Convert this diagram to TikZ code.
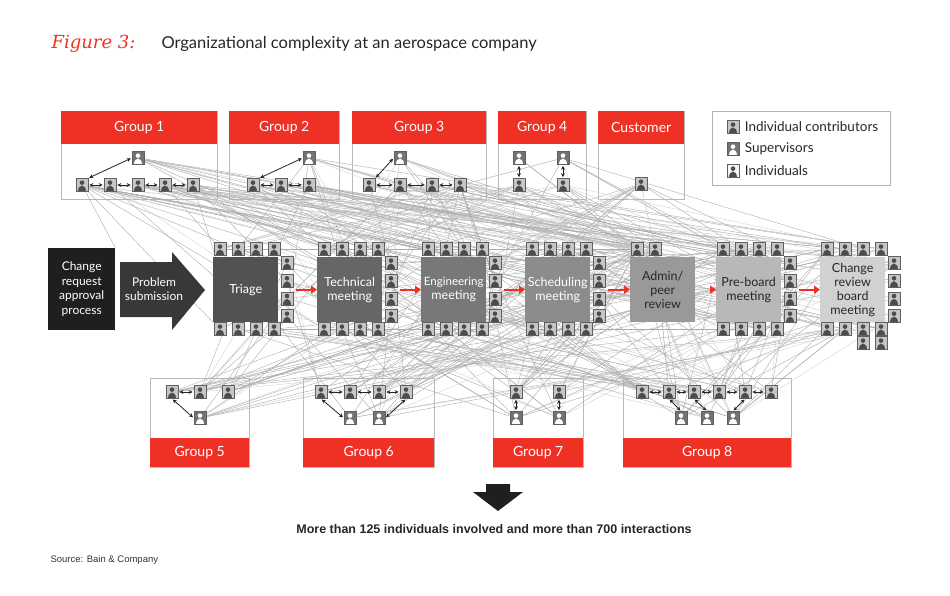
\documentclass[tikz,border=0pt]{standalone}
\usepackage{fontspec}
\usetikzlibrary{arrows.meta}
\setmainfont{Lato}
\newfontfamily\hv{Liberation Sans}
\newfontfamily\scr{DejaVu Serif}
\pgfdeclarelayer{bg}\pgfdeclarelayer{lines}
\pgfsetlayers{bg,lines,main}
\definecolor{bred}{HTML}{EE3124}
\tikzset{
 person/.style={path picture={
   \fill[#1] ([yshift=2.4pt]path picture bounding box.center) circle (2.3pt);
   \fill[#1] ([yshift=-6.5pt]path picture bounding box.center) ++(-4pt,0) arc[start angle=180,end angle=0,x radius=4pt,y radius=6pt] -- cycle;}},
 ico/.style={draw=gray!75!black,line width=0.6pt,minimum width=12pt,minimum height=13pt,inner sep=0pt},
 icoc/.style={ico,fill=gray!45,person=black!70},
 icoi/.style={ico,fill=gray!8,person=black!70},
 icos/.style={ico,fill=black!55,person=white},
 ghead/.style={fill=bred,text=white,font=\fontsize{14}{16}\selectfont,inner sep=0pt,anchor=north west},
 gbox/.style={draw=gray!55,line width=0.8pt,fill=white},
 meet/.style={minimum width=65pt,minimum height=65pt,inner sep=0pt,align=center,font=\fontsize{12.5}{14}\selectfont,text width=65pt},
 dar/.style={<->,>={Stealth[length=4pt,width=4pt]},line width=0.8pt,black!85,shorten >=1pt,shorten <=1pt},
 rarr/.style={-{Triangle[length=6pt,width=8pt]},line width=2pt,bred},
 lnk/.style={line width=0.4pt,gray!65},
 lnk2/.style={line width=0.4pt,gray!35},
}
\newcommand\ic[4]{\node[ico#4] (#1) at ({#2},{#3}) {};}
\begin{document}
\begin{tikzpicture}[x=1pt,y=-1pt]
\useasboundingbox (0,0) rectangle (950,596);
\node[anchor=west,text=bred,font=\scr\itshape\fontsize{18}{20}\selectfont] (fig) at (48,44) {Figure 3:};
\node[anchor=west,font=\fontsize{16.5}{18}\selectfont,text=black!85] (title) at (158,44) {Organizational complexity at an aerospace company};
\begin{pgfonlayer}{bg}
\foreach \a/\b/\t/\n in {61/217/Group 1/h1,229/339/Group 2/h2,352/486/Group 3/h3,498/586/Group 4/h4,598/684/Customer/h5}{
 \node[gbox,minimum width=\b-\a,minimum height=88,anchor=north west,inner sep=0] (\n b) at (\a,111) {};
 \node[ghead,minimum width=\b-\a,minimum height=33] (\n) at (\a,111) {\t};
}
\foreach \a/\b/\t/\n in {150/249/Group 5/l5,303/434/Group 6/l6,493/583/Group 7/l7,623/791/Group 8/l8}{
 \node[gbox,minimum width=\b-\a,minimum height=89,anchor=north west,inner sep=0] (\n b) at (\a,378) {};
 \node[ghead,minimum width=\b-\a,minimum height=29] (\n) at (\a,438) {\t};
}
\end{pgfonlayer}
\node[draw=gray!60,line width=0.8pt,minimum width=178,minimum height=74,anchor=north west] (leg) at (712,111) {};
\ic{LA}{733}{127}{c}\ic{LB}{733}{149}{s}\ic{LC}{733}{171}{i}
\foreach \n/\t in {LA/Individual contributors,LB/Supervisors,LC/Individuals}
 \node[anchor=west,font=\fontsize{13.5}{15}\selectfont,text=black!85,xshift=2pt] at (\n.east) {\t};
\ic{T1}{82}{185}{c}\ic{T2}{110}{185}{c}\ic{T3}{138}{185}{c}\ic{T4}{165}{185}{c}\ic{T5}{193}{185}{c}\ic{T6}{138}{158}{s}
\ic{T7}{253}{185}{c}\ic{T8}{281}{185}{c}\ic{T9}{309}{185}{c}\ic{T10}{309}{158}{s}
\ic{T11}{369}{185}{c}\ic{T12}{400}{185}{c}\ic{T13}{432}{185}{c}\ic{T14}{460}{185}{c}\ic{T15}{400}{158}{s}
\ic{T16}{519}{185}{c}\ic{T17}{563}{185}{c}\ic{T18}{519}{158}{s}\ic{T19}{563}{158}{s}
\ic{T20}{641}{184}{c}
\foreach \p/\q in {T1/T2,T2/T3,T3/T4,T4/T5,T7/T8,T8/T9,T12/T13,T13/T14,T11/T12} \draw[dar] (\p) -- (\q);
\draw[dar] (T1.north east) -- (T6.west);
\draw[dar] (T7.north east) -- (T10.west);
\draw[dar] (T11.north east) -- (T15.west);
\draw[dar] (T16) -- (T18); \draw[dar] (T17) -- (T19);
\ic{B1}{172}{392}{c}\ic{B2}{200}{392}{c}\ic{B3}{228}{392}{c}\ic{B4}{200}{418}{s}
\ic{B5}{321}{392}{c}\ic{B6}{350}{392}{c}\ic{B7}{379}{392}{c}\ic{B8}{406}{392}{c}\ic{B9}{350}{418}{s}\ic{B10}{379}{418}{s}
\ic{B11}{516}{392}{c}\ic{B12}{559}{392}{c}\ic{B13}{516}{418}{s}\ic{B14}{559}{418}{s}
\ic{B15}{642}{392}{c}\ic{B16}{669}{392}{c}\ic{B17}{694}{392}{c}\ic{B18}{719}{392}{c}\ic{B19}{745}{392}{c}\ic{B20}{771}{392}{c}
\ic{B21}{681}{418}{s}\ic{B22}{707}{418}{s}\ic{B23}{733}{418}{s}
\foreach \p/\q in {B1/B2,B5/B6,B6/B7,B7/B8,B15/B16,B16/B17,B17/B18,B18/B19,B19/B20} \draw[dar] (\p) -- (\q);
\draw[dar] (B1.south) -- (B4.west);
\draw[dar] (B5.south) -- (B9.west);
\draw[dar] (B8.south) -- (B10.east);
\draw[dar] (B11) -- (B13); \draw[dar] (B12) -- (B14);
\draw[dar] (B16.south) -- (B21.north); \draw[dar] (B17.south) -- (B22.north); \draw[dar] (B19.south) -- (B23.north);
\node[fill=black!88,text=white,minimum width=67,minimum height=82,align=center,font=\fontsize{12}{14.5}\selectfont,anchor=north west] (cr) at (48,248) {Change\\request\\approval\\process};
\fill[black!78] (120,262) -- (172,262) -- (172,252) -- (205,290) -- (172,330) -- (172,317) -- (120,317) -- cycle;
\node[text=white,align=center,font=\fontsize{12}{14}\selectfont] (ps) at (154,289) {Problem\\submission};
\foreach \m/\x/\c/\tc/\t in {1/213/black!68/white/Triage,2/317/black!60/white/Technical\\meeting,3/421/black!53/white/{{\fontsize{11.5}{14}\selectfont Engineering}\\meeting},4/525/black!45/white/Scheduling\\meeting,5/630/black!40/black!85/{Admin/\\peer\\review},6/716/black!28/black!85/Pre-board\\meeting,7/820/black!18/black!85/Change\\review\\board\\meeting}{
 \node[meet,fill=\c,text=\tc,anchor=north west] (mb\m) at (\x,257) {\t};
}
\foreach \m/\x in {1/213,2/317,3/421,4/525,6/716,7/820}{
 \foreach \k in {1,...,4}{
  \ic{M\m-\k}{\x+7+18*(\k-1)}{249}{c}
  \ic{M\m-\the\numexpr\k+4\relax}{\x+74}{263+17.7*(\k-1)}{c}
  \ic{M\m-\the\numexpr\k+8\relax}{\x+7+18*(\k-1)}{329}{c}
 }
}
\ic{M5-1}{637}{249}{c}\ic{M5-2}{655}{249}{c}
\ic{M7-13}{863}{343}{c}\ic{M7-14}{881}{343}{c}
\foreach \a/\b in {1/2,2/3,3/4,4/5,5/6,6/7}
 \draw[rarr] ([xshift=18pt]mb\a.east) -- (mb\b.west);
\begin{pgfonlayer}{lines}
\pgfmathsetseed{7}
\foreach \i in {1,...,200}{
 \pgfmathrandominteger{\t}{1}{20}
 \pgfmathrandominteger{\m}{1}{7}
 \ifnum\m=5 \pgfmathrandominteger{\k}{1}{2}\else\pgfmathrandominteger{\k}{1}{12}\fi
 \pgfmathrandominteger{\s}{1}{3}
 \ifnum\s=1 \draw[lnk2] (T\t) -- (M\m-\k);\else\draw[lnk] (T\t) -- (M\m-\k);\fi
}
\foreach \i in {1,...,180}{
 \pgfmathrandominteger{\t}{1}{23}
 \pgfmathrandominteger{\m}{1}{7}
 \ifnum\m=5 \pgfmathrandominteger{\k}{1}{2}\else\pgfmathrandominteger{\k}{1}{12}\fi
 \pgfmathrandominteger{\s}{1}{3}
 \ifnum\s=1 \draw[lnk2] (B\t) -- (M\m-\k);\else\draw[lnk] (B\t) -- (M\m-\k);\fi
}
\foreach \i in {1,...,30}{
 \pgfmathrandominteger{\m}{1}{4}
 \pgfmathrandominteger{\n}{3}{7}
 \pgfmathrandominteger{\k}{1}{12}
 \ifnum\n=5 \pgfmathrandominteger{\j}{1}{2}\else\pgfmathrandominteger{\j}{1}{12}\fi
 \draw[lnk] (M\m-\k) -- (M\n-\j);
}
\draw[lnk] (T1) -- (mb1.south west);
\draw[lnk] (T1) -- (cr.north east);
\end{pgfonlayer}
\fill[black!88] (486,484) -- (510,484) -- (510,492) -- (523,492) -- (498,511) -- (473,492) -- (486,492) -- cycle;
\node[font=\hv\bfseries\fontsize{12.5}{14}\selectfont,text=black!85] (sum) at (494,529) {More than 125 individuals involved and more than 700 interactions};
\node[anchor=west,font=\hv\fontsize{9.5}{11}\selectfont,text=black!80] (src) at (47,560) {Source: Bain \& Company};
\end{tikzpicture}
\end{document}
